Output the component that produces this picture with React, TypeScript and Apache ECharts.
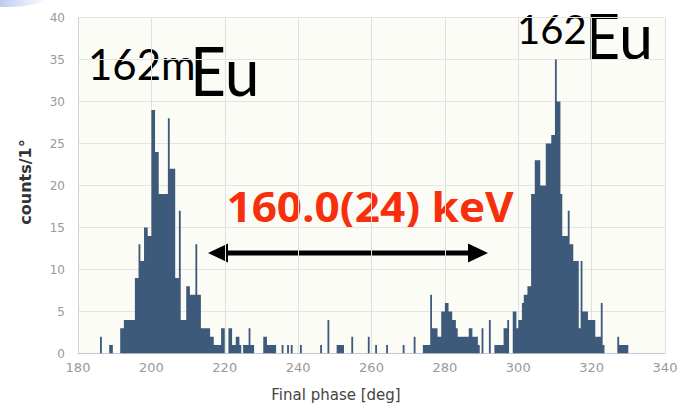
import React, { useEffect, useRef } from "react";
import * as echarts from "echarts";

// Histogram bins: 0.5 deg wide, counts per bin, listed from each region's first bin edge
const BIN_WIDTH = 0.5;

// 162mEu region, bins from 185.0 deg
const isomerStart = 185.0;
const isomerCounts = [
  0, 0, 2, 0, 0, 0, 0, 1, 1, 0,
  0, 0, 0, 3, 3, 4, 4, 4, 4, 4,
  4, 9, 9, 13, 11, 11, 15, 15, 14, 14,
  29, 29, 24, 24, 19, 19, 19, 19, 19, 28,
  22, 22, 22, 9, 9, 17, 4, 4, 4, 8,
  8, 7, 7, 7, 13, 7, 7, 3, 3, 3,
  3, 3, 2, 2, 1, 1, 1, 1, 3, 3,
];

// background region, bins from 220.0 deg
const middleStart = 220.0;
const middleCounts = [
  0, 0, 3, 3, 1, 1, 2, 2, 1, 0,
  1, 1, 1, 3, 1, 1, 0, 0, 0, 0,
  0, 2, 2, 1, 1, 1, 1, 1, 0, 0,
  0, 1, 0, 0, 1, 0, 1, 0, 0, 0,
  0, 1, 0, 0, 0, 0, 0, 0, 0, 0,
  0, 0, 1, 0, 0, 0, 4, 0, 0, 0,
  0, 1, 1, 1, 1, 0, 0, 0, 0, 2,
  0, 0, 0, 0, 0, 0, 0, 0, 2, 0,
  0, 0, 1, 0, 0, 0, 0, 0, 1, 0,
  0, 0, 0, 0, 0, 0, 0, 1, 0, 0,
  0, 0, 0, 2, 0, 0, 0, 0,
];

// 162Eu region, bins from 274.0 deg
const groundStart = 274.0;
const groundCounts = [
  1, 1, 1, 1, 7, 3, 3, 3, 2, 2,
  5, 5, 6, 6, 5, 5, 4, 4, 3, 2,
  2, 2, 2, 2, 2, 3, 3, 2, 2, 2,
  1, 0, 3, 0, 0, 0, 4, 0, 0, 1,
  1, 1, 1, 1, 3, 3, 4, 0, 0, 5,
  5, 3, 4, 4, 6, 7, 7, 8, 8, 19,
  19, 23, 23, 23, 20, 20, 20, 25, 25, 25,
  26, 26, 35, 30, 30, 19, 14, 14, 14, 17,
  13, 13, 11, 11, 11, 3, 11, 5, 5, 5,
  4, 4, 4, 4, 2, 2, 2, 6, 1, 0,
  0, 0, 0, 0, 0, 0, 2, 1, 1, 1,
  1, 1,
];

const xRange = { min: 180, max: 340, interval: 20 };
const yRange = { min: 0, max: 40, interval: 5 };

const xAxisTitle = "Final phase [deg]";
const yAxisTitle = "counts/1°";
const separationLabel = "160.0(24) keV";

// each bin as [left edge, count]; drawn as a step histogram
function toEdges(start: number, counts: number[]) {
  return counts.map((c, i) => [start + i * BIN_WIDTH, c]);
}

const BAR_COLOR = "#3d5a7b";

export default function App() {
  const ref = useRef<HTMLDivElement>(null);

  useEffect(() => {
    if (!ref.current) return;
    const chart = echarts.init(ref.current, undefined, { renderer: "svg" });

    const lastEdge = groundStart + groundCounts.length * BIN_WIDTH;
    const data = [
      ...toEdges(isomerStart, isomerCounts),
      ...toEdges(middleStart, middleCounts),
      ...toEdges(groundStart, groundCounts),
      [lastEdge, 0],
    ];

    const arrowY = 253;
    const noStroke = { stroke: "none", lineWidth: 0 };

    chart.setOption({
      animation: false,
      backgroundColor: "#ffffff",
      grid: {
        left: 78,
        right: 18,
        top: 17.5,
        bottom: 58.5,
        show: true,
        backgroundColor: "#fcfcf6",
        borderWidth: 0,
      },
      xAxis: {
        type: "value",
        min: xRange.min,
        max: xRange.max,
        interval: xRange.interval,
        axisLine: { show: true, lineStyle: { color: "#c3c9d2", width: 1 } },
        axisTick: { show: false },
        axisLabel: { color: "#999999", fontSize: 13, margin: 7, fontFamily: "DejaVu Sans" },
        splitLine: { show: true, lineStyle: { color: "#e0e0e0", width: 1 } },
      },
      yAxis: {
        type: "value",
        min: yRange.min,
        max: yRange.max,
        interval: yRange.interval,
        axisLine: { show: true, lineStyle: { color: "#cdd4de", width: 1 } },
        axisTick: { show: false },
        axisLabel: { color: "#999999", fontSize: 12, margin: 13, fontFamily: "DejaVu Sans" },
        splitLine: { show: true, lineStyle: { color: "#e4e4e4", width: 1 } },
      },
      series: [
        {
          type: "line",
          data,
          step: "end",
          showSymbol: false,
          symbol: "none",
          lineStyle: { width: 0, opacity: 0, color: BAR_COLOR },
          areaStyle: { color: BAR_COLOR, opacity: 1 },
          itemStyle: { color: BAR_COLOR },
          emphasis: { disabled: true },
          silent: true,
        },
      ],
      graphic: [
        {
          type: "ellipse",
          shape: { cx: 8, cy: -2, rx: 36, ry: 9 },
          style: {
            fill: new echarts.graphic.LinearGradient(0, 0, 1, 0, [
              { offset: 0, color: "rgba(120,145,220,0.9)" },
              { offset: 1, color: "rgba(200,210,245,0.2)" },
            ]),
          },
          silent: true,
        },
        {
          type: "text",
          x: 88,
          y: 64,
          style: { text: "162m", fontSize: 42, fontFamily: "Lato", fill: "#000", ...noStroke, align: "left", verticalAlign: "middle" },
        },
        {
          type: "text",
          x: 190,
          y: 70,
          scaleX: 0.93,
          style: { text: "Eu", fontSize: 67, fontFamily: "Lato", fill: "#000", ...noStroke, align: "left", verticalAlign: "middle" },
        },
        {
          type: "text",
          x: 517,
          y: 29,
          style: { text: "162", fontSize: 40, fontFamily: "Lato", fill: "#000", ...noStroke, align: "left", verticalAlign: "middle" },
        },
        {
          type: "text",
          x: 585,
          y: 35,
          style: { text: "Eu", fontSize: 61, fontFamily: "Lato", fill: "#000", ...noStroke, align: "left", verticalAlign: "middle" },
        },
        {
          type: "text",
          x: 370,
          y: 206,
          scaleX: 1.05,
          style: {
            text: separationLabel,
            fontSize: 42,
            fontWeight: "bold",
            fontFamily: "Open Sans",
            fill: "#f72f0c",
            ...noStroke,
            align: "center",
            verticalAlign: "middle",
          },
        },
        {
          type: "line",
          shape: { x1: 224, y1: arrowY, x2: 472, y2: arrowY },
          style: { stroke: "#000", lineWidth: 5 },
        },
        {
          type: "polygon",
          shape: { points: [[208, arrowY], [228, arrowY - 9.5], [228, arrowY + 9.5]] },
          style: { fill: "#000" },
        },
        {
          type: "polygon",
          shape: { points: [[488, arrowY], [468, arrowY - 9.5], [468, arrowY + 9.5]] },
          style: { fill: "#000" },
        },
        {
          type: "text",
          x: 336,
          y: 395,
          style: { text: xAxisTitle, fontSize: 15, fontFamily: "DejaVu Sans", fill: "#444", ...noStroke, align: "center", verticalAlign: "middle" },
        },
        {
          type: "text",
          x: 25,
          y: 182,
          rotation: Math.PI / 2,
          style: { text: yAxisTitle, fontSize: 16, fontWeight: "bold", fontFamily: "DejaVu Sans", fill: "#333", ...noStroke, align: "center", verticalAlign: "middle" },
        },
      ],
    });

    return () => chart.dispose();
  }, []);

  return (
    <div
      ref={ref}
      style={{ position: "fixed", left: 0, top: 0, width: 683, height: 412 }}
    />
  );
}
